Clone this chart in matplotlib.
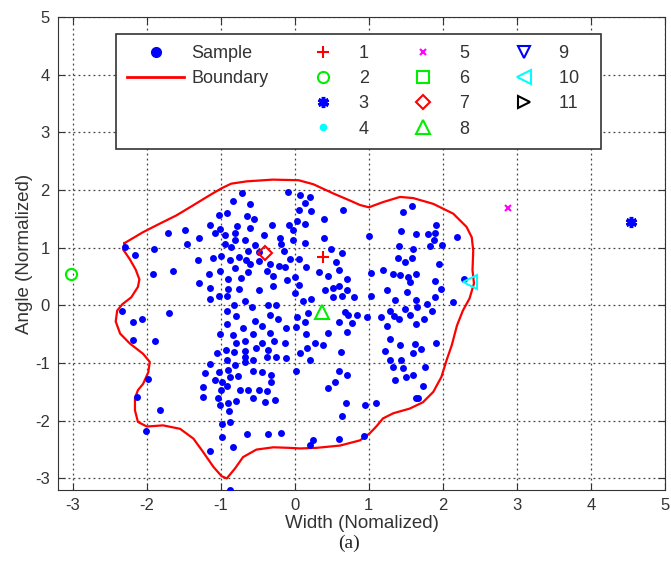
import matplotlib
matplotlib.use("Agg")
import matplotlib.pyplot as plt
from matplotlib.lines import Line2D

plt.rcParams["font.family"] = ["Liberation Sans", "DejaVu Sans"]
plt.rcParams["axes.unicode_minus"] = False

# Normalized (width, angle) of the samples
sample_x = [
    -0.72, -0.83, -0.60, -0.09, -1.02, -0.91, -0.65, -0.55, -1.14, -0.78, -0.60, -0.31, -0.08, -1.01,
    -1.08, -0.95, -0.81, -1.72, -1.48, -0.42, -1.46, -1.29, -0.81, -0.67, -0.20, -0.02, -0.95, -0.86,
    -0.54, -0.63, -0.49, -0.19, -0.15, -2.30, -2.16, -1.90, -1.31, -1.11, -1.00, -0.88, -0.75, -0.66,
    -0.60, -0.49, -0.33, -0.22, -0.13, -0.06, -1.91, -1.65, -1.29, -1.16, -1.01, -0.90, -0.81, -0.73,
    -0.63, -0.38, -0.30, -0.10, -1.15, -0.90, -0.75, -0.49, -0.30, -1.15, -1.03, -0.91, -0.67, -0.02,
    0.07, 0.20, 0.14, 0.06, 0.22, 0.65, 0.03, 0.14, 0.39, 0.14, 0.39, 0.49, 0.64, 0.05, 0.15, 0.32,
    0.56, 0.60, 0.45, 0.71, 0.00, 0.05, 0.41, 0.52, 0.60, 0.71, 0.00, 0.11, 0.22, 0.51, 0.64, 0.80,
    1.00, 1.03, 1.03, 1.19, 1.25, 1.32, 1.42, 1.35, 1.46, 1.58, 1.44, 1.64, 1.41, 1.60, 1.40, 1.49,
    1.58, 1.53, 1.56, 1.64, 1.51, 1.64, 1.80, 1.90, 1.91, 1.88, 1.83, 1.99, 1.95, 1.89, 1.97, 1.90,
    1.78, 2.13, 2.19, 2.28,
    -2.34, -2.18, -2.07, -1.70, -2.18, -1.89, -1.98, -2.13, -0.82, -0.58, -0.36, -0.26, -0.92, -0.80,
    -0.92, -1.01, -0.83, -0.70, -0.54, -0.45, -0.34, -0.34, -0.23, -0.12, -0.80, -0.67, -0.56, -0.44,
    -0.28, -0.13, -1.05, -0.93, -0.82, -0.67, -0.53, -0.36, -0.67, -0.56, -0.38, -0.25, -0.12, -1.14,
    -0.92, -0.81, -0.90, -0.67, -0.57, -1.22, -1.02, -0.88, -0.77, -0.45, -0.32, -0.32, -1.08, -0.98,
    -0.91, -1.24, -1.00, -0.74, -0.63, -0.49, -0.38,
    0.18, 0.03, 0.14, 0.01, 0.15, 0.45, 0.59, 0.68, 0.72, 0.77, 0.71, 0.84, 0.27, 0.38, 0.17, 0.07,
    0.20, 0.63, 0.01, 0.59, 0.70, 0.54, 0.45, 0.98, 1.17, 1.28, 1.34, 1.24, 1.41, 1.49, 1.56, 1.64,
    1.65, 1.74, 1.85, 1.28, 1.42, 1.22, 1.29, 1.44, 1.60, 1.62, 1.70, 1.91, 1.33, 1.46, 1.76, 1.60,
    1.50, 1.35, 1.73, 1.64,
    -1.82, -2.01, -1.24, -1.04, -1.01, -0.90, -0.79, -0.89, -0.56, -0.40, -0.27, -0.99, -0.87, -0.99,
    -0.64, -0.36, -0.19, -1.15, -0.84, -0.87, 0.21, 0.25, 0.59, 0.64, 0.69, 0.95, 1.10, 0.94, 1.67,
]
sample_y = [
    1.94, 1.81, 1.76, 1.97, 1.56, 1.61, 1.55, 1.49, 1.40, 1.37, 1.34, 1.40, 1.40, 1.33,
    1.26, 1.22, 1.26, 1.26, 1.30, 1.22, 1.07, 1.16, 1.13, 1.13, 1.16, 1.30, 1.07, 1.01,
    1.04, 0.94, 0.92, 1.07, 0.94, 1.01, 0.87, 0.98, 0.79, 0.82, 0.85, 0.79, 0.84, 0.79,
    0.72, 0.77, 0.72, 0.69, 0.67, 0.81, 0.55, 0.59, 0.38, 0.55, 0.60, 0.45, 0.65, 0.48,
    0.58, 0.59, 0.51, 0.44, 0.31, 0.28, 0.28, 0.26, 0.33, 0.11, 0.16, 0.16, 0.08, 1.13,
    1.91, 1.88, 1.77, 1.66, 1.63, 1.66, 1.46, 1.41, 1.49, 1.09, 1.16, 0.98, 0.90, 0.81, 0.67, 0.58,
    0.75, 0.61, 0.51, 0.45, 0.49, 0.35, 0.27, 0.30, 0.34, 0.26, 0.22, 0.07, 0.11, 0.14, 0.17, 0.14,
    1.20, 0.56, 0.17, 0.61, 0.27, 0.55, 0.52, 0.10, 1.62, 1.73, 1.29, 1.23, 1.03, 0.98, 0.82, 0.75,
    0.83, 0.49, 0.40, 0.54, 0.23, 0.10, 1.23, 1.25, 1.40, 1.13, 1.03, 1.04, 0.72, 0.42, 0.29, 0.14,
    0.03, 0.06, 1.18, 0.45,
    -0.10, -0.29, -0.24, -0.14, -0.60, -0.61, -1.27, -1.59, 0.00, -0.02, 0.00, 0.00, -0.10, -0.19,
    -0.32, -0.49, -0.52, -0.39, -0.27, -0.36, -0.17, -0.48, -0.23, -0.39, -0.66, -0.62, -0.50, -0.65,
    -0.62, -0.65, -0.82, -0.77, -0.81, -0.79, -0.74, -0.78, -0.90, -0.94, -0.90, -0.89, -0.91, -1.02,
    -0.94, -1.04, -1.12, -0.98, -1.13, -1.17, -1.16, -1.24, -1.23, -1.16, -1.20, -1.33, -1.30, -1.33,
    -1.40, -1.41, -1.46, -1.46, -1.47, -1.46, -1.48,
    -0.14, -0.20, -0.29, -0.38, -0.50, -0.48, -0.29, -0.12, -0.17, -0.31, -0.46, -0.17, -0.65, -0.68, -0.74, -0.82,
    -0.94, -0.80, -1.14, -1.13, -1.20, -1.32, -1.44, -0.21, -0.21, -0.09, -0.19, -0.36, -0.23, -0.07, -0.17, -0.32,
    -0.03, -0.23, -0.10, -0.58, -0.69, -0.79, -0.95, -0.94, -0.82, -0.67, -0.75, -0.66, -1.07, -1.09, -1.06, -1.20,
    -1.25, -1.30, -1.39, -1.60,
    -1.82, -2.17, -1.59, -1.60, -1.73, -1.69, -1.66, -1.83, -1.60, -1.68, -1.64, -2.06, -2.02, -2.28,
    -2.23, -2.23, -2.21, -2.52, -2.46, -3.20, -2.42, -2.33, -2.31, -1.92, -1.69, -1.73, -1.69, -2.27, -1.61,
]

# Closed boundary around the samples
boundary_x = [
    -2.30, -2.05, -1.82, -1.60, -1.38, -1.15, -0.99, -0.86, -0.65, -0.30, 0.05, 0.25, 0.52, 0.74,
    0.88, 1.00, 1.19, 1.42, 1.60, 1.87, 2.14, 2.32, 2.39, 2.41, 2.40, 2.42, 2.36, 2.27, 2.19, 2.12,
    2.05, 1.98, 1.87, 1.73, 1.55, 1.33, 1.19, 1.10, 1.01, 0.88, 0.61, 0.29, 0.07, -0.07, -0.29,
    -0.52, -0.70, -0.81, -0.92, -0.99, -1.10, -1.24, -1.37, -1.55, -1.78, -2.00, -2.12, -2.16,
    -2.16, -2.12, -2.05, -1.98, -1.96, -2.05, -2.23, -2.36, -2.42, -2.40, -2.33, -2.21, -2.12,
    -2.10, -2.15, -2.23, -2.32, -2.30,
]
boundary_y = [
    1.08, 1.27, 1.42, 1.56, 1.73, 1.91, 2.03, 2.11, 2.15, 2.18, 2.17, 2.10, 1.94, 1.82,
    1.74, 1.70, 1.79, 1.88, 1.86, 1.76, 1.59, 1.36, 1.18, 0.95, 0.61, 0.38, 0.12, -0.09, -0.35, -0.69,
    -0.95, -1.24, -1.50, -1.68, -1.79, -1.87, -1.96, -2.10, -2.22, -2.34, -2.43, -2.47, -2.48, -2.47, -2.46,
    -2.50, -2.63, -2.83, -3.00, -2.96, -2.80, -2.54, -2.31, -2.14, -2.08, -2.10, -2.02, -1.82,
    -1.61, -1.47, -1.36, -1.16, -0.98, -0.84, -0.66, -0.49, -0.28, -0.09, 0.02, 0.14, 0.32,
    0.45, 0.62, 0.80, 0.97, 1.08,
]

# Test points 1..11, empty where nothing is plotted
test_labels = ["1", "2", "3", "4", "5", "6", "7", "8", "9", "10", "11"]
test_x = [[0.38], [-3.03], [4.54], [], [2.88], [], [-0.40], [0.37], [], [2.36], []]
test_y = [[0.84], [0.55], [1.44], [], [1.69], [], [0.91], [-0.12], [], [0.40], []]
asterisk = (6, 2, 0)
test_markers = ["+", "o", asterisk, ".", "x", "s", "D", "^", "v", "<", ">"]
test_colors = ["#ff0000", "#00ee00", "#0000ff", "#00ffff", "#ff00ff", "#00ee00",
               "#ff0000", "#00ee00", "#0000ff", "#00ffff", "#000000"]
test_sizes = [8, 8, 8, 8, 5, 8, 7, 10, 8, 10, 8]
test_widths = [1.5, 1.5, 2.5, 1.5, 1.5, 1.5, 1.5, 1.5, 1.5, 1.5, 1.5]

fig = plt.figure(figsize=(6.71, 5.71), dpi=100)
ax = fig.add_axes([0.0864, 0.1419, 0.9046, 0.8284])

ax.plot(sample_x, sample_y, "o", color="#0000ff", markersize=5, markeredgewidth=0, zorder=3)
ax.plot(boundary_x, boundary_y, "-", color="#ff0000", linewidth=1.6, zorder=2)

test_handles = []
for i in range(len(test_labels)):
    filled = test_markers[i] == "."
    h, = ax.plot(test_x[i], test_y[i], linestyle="none", marker=test_markers[i],
                 color=test_colors[i], markersize=test_sizes[i],
                 markeredgewidth=test_widths[i],
                 markerfacecolor=test_colors[i] if filled else "none", zorder=4)
    test_handles.append(h)

ax.set_xlim(-3.2, 5)
ax.set_ylim(-3.2, 5)
ax.set_xticks(range(-3, 6))
ax.set_yticks(range(-3, 6))
ax.grid(True, linestyle=(0, (1.5, 2.5)), color="#444444", linewidth=0.9)
ax.tick_params(direction="in", top=True, right=True, length=5, labelsize=12,
               colors="#333333", pad=6)
for s in ax.spines.values():
    s.set_color("#333333")

ax.set_xlabel("Width (Nomalized)", fontsize=13.5, color="#333333", labelpad=1)
ax.set_ylabel("Angle (Normalized)", fontsize=13.5, color="#333333", labelpad=1)

# Legend: column 1 holds Sample/Boundary, the rest the test points
blank = Line2D([], [], linestyle="none")
sample_proxy = Line2D([], [], linestyle="none", marker="o", color="#0000ff", markersize=7)
boundary_proxy = Line2D([], [], color="#ff0000", linewidth=2)
handles = [sample_proxy, boundary_proxy, blank, blank] + test_handles + [blank]
# last column padded a little so the frame reaches further right
labels = ["Sample", "Boundary", "", ""] + test_labels[:8] + [s + "  " for s in test_labels[8:]] + [""]
leg = ax.legend(handles, labels, ncol=4, loc="upper left",
                bbox_to_anchor=(0.0956, 0.964), borderaxespad=0, fontsize=13,
                handlelength=3.15, handletextpad=0.4, borderpad=0.62,
                labelspacing=0.45, columnspacing=1.45, fancybox=False,
                framealpha=1, edgecolor="#333333")
leg.get_frame().set_linewidth(1.2)
for t in leg.get_texts():
    t.set_color("#333333")

fig.text(0.52, 0.049, "(a)", ha="center", va="center", fontsize=14,
         family="Liberation Serif", color="#222222")

fig.savefig("out.png", dpi=100)
